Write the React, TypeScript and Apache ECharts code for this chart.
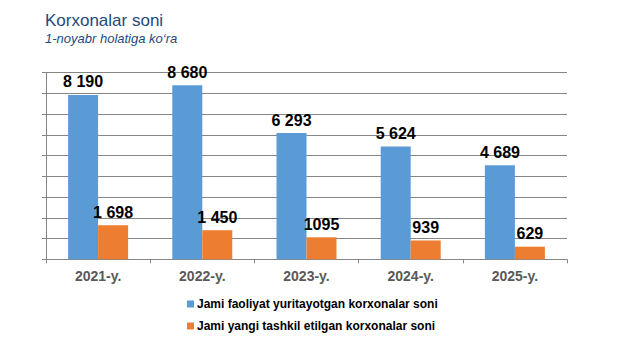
import React, { useEffect, useRef } from "react";
import * as echarts from "echarts";

const categories = ["2021-y.", "2022-y.", "2023-y.", "2024-y.", "2025-y."];
const activeValues = [8190, 8680, 6293, 5624, 4689];
const activeLabels = ["8 190", "8 680", "6 293", "5 624", "4 689"];
const newValues = [1698, 1450, 1095, 939, 629];
const newLabels = ["1 698", "1 450", "1095", "939", "629"];
const seriesNames = [
  "Jami faoliyat yuritayotgan korxonalar soni",
  "Jami yangi tashkil etilgan korxonalar soni",
];
const axisMax = 9300;
const axisSteps = 9;

export default function App() {
  const ref = useRef<HTMLDivElement>(null);
  useEffect(() => {
    document.body.style.margin = "0";
    const chart = echarts.init(ref.current!, null, { renderer: "svg" });
    const labelStyle = {
      show: true,
      position: "top" as const,
      distance: 5,
      fontFamily: "Arial, 'Liberation Sans', sans-serif",
      fontWeight: "bold" as const,
      fontSize: 16,
      color: "#000",
    };
    chart.setOption({
      animation: false,
      backgroundColor: "#fff",
      title: {
        text: "Korxonalar soni",
        subtext: "1-noyabr holatiga ko\u2018ra",
        left: 40,
        top: 7,
        itemGap: 3,
        textStyle: {
          fontFamily: "Arial, 'Liberation Sans', sans-serif",
          fontSize: 17,
          fontWeight: "normal",
          color: "#1F497D",
        },
        subtextStyle: {
          fontFamily: "Arial, 'Liberation Sans', sans-serif",
          fontSize: 13,
          fontStyle: "italic",
          color: "#1F497D",
        },
      },
      legend: {
        orient: "vertical",
        left: 182,
        top: 293,
        itemWidth: 7,
        itemHeight: 7,
        itemGap: 10,
        icon: "rect",
        textStyle: {
          fontFamily: "Arial, 'Liberation Sans', sans-serif",
          fontWeight: "bold",
          fontSize: 12,
          color: "#000",
          padding: [0, 0, 0, -2],
        },
        data: seriesNames,
      },
      grid: { left: 46, right: 56, top: 72.7, bottom: 100.7 },
      xAxis: {
        type: "category",
        data: categories,
        axisLine: { lineStyle: { color: "#868686", width: 1 } },
        axisTick: { show: true, length: 4, lineStyle: { color: "#868686" } },
        axisLabel: {
          fontFamily: "Arial, 'Liberation Sans', sans-serif",
          fontWeight: "bold",
          fontSize: 14,
          color: "#595959",
          margin: 10,
        },
      },
      yAxis: {
        type: "value",
        min: 0,
        max: axisMax,
        interval: axisMax / axisSteps,
        axisLine: { show: true, lineStyle: { color: "#868686" } },
        axisTick: { show: true, length: 4, lineStyle: { color: "#868686" } },
        axisLabel: { show: false },
        splitLine: { lineStyle: { color: "#868686", width: 1 } },
      },
      series: [
        {
          name: seriesNames[0],
          type: "bar",
          data: activeValues,
          barWidth: 30,
          barGap: "0%",
          itemStyle: { color: "#5B9BD5" },
          label: { ...labelStyle, formatter: (p: any) => activeLabels[p.dataIndex] },
        },
        {
          name: seriesNames[1],
          type: "bar",
          data: newValues,
          barWidth: 30,
          barGap: "0%",
          itemStyle: { color: "#ED7D31" },
          label: { ...labelStyle, formatter: (p: any) => newLabels[p.dataIndex] },
        },
      ],
    });
    return () => chart.dispose();
  }, []);
  return <div ref={ref} style={{ width: 623, height: 360 }} />;
}
